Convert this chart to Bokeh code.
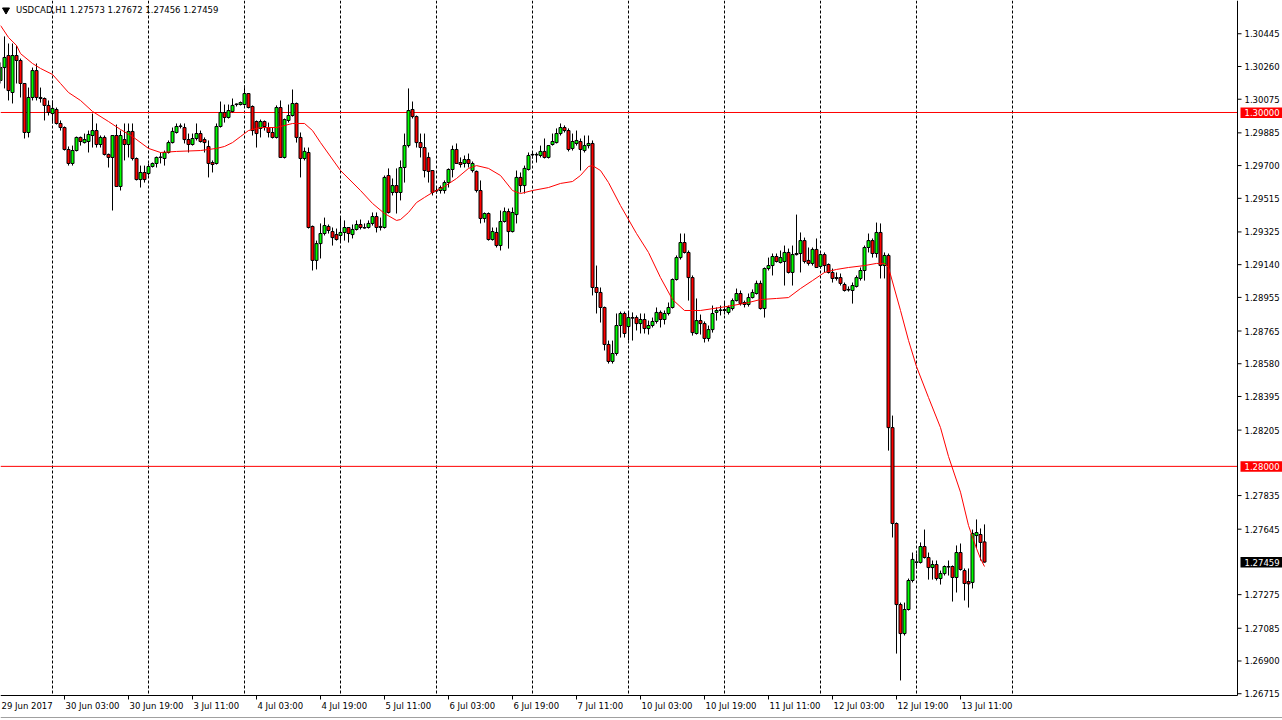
import numpy as np
import pandas as pd
from bokeh.plotting import figure
from bokeh.models import Range1d, ColumnDataSource
from bokeh.core.properties import value
from bokeh.embed import file_html
from bokeh.resources import INLINE

symbol = "USDCAD,H1"
first_bar = "2017-06-29 11:00"

open_ = [1.30181,1.30254,1.30322,1.30113,1.30322,1.30294,1.30164,1.29887,1.30085,1.30237,
 1.30085,1.30079,1.30040,1.29994,1.30017,1.29938,1.29915,1.29791,1.29712,1.29785,
 1.29859,1.29830,1.29836,1.29870,1.29898,1.29819,1.29859,1.29763,1.29746,1.29870,
 1.29582,1.29847,1.29819,1.29893,1.29740,1.29621,1.29661,1.29655,1.29695,1.29712,
 1.29746,1.29740,1.29774,1.29830,1.29887,1.29921,1.29915,1.29847,1.29819,1.29853,
 1.29881,1.29847,1.29808,1.29717,1.29712,1.29921,1.30000,1.29972,1.30006,1.30045,
 1.30045,1.30045,1.30107,1.30034,1.29949,1.29910,1.29949,1.29915,1.29887,1.29859,
 1.30028,1.29746,1.29955,1.29983,1.30051,1.29859,1.29740,1.29774,1.29356,1.29164,
 1.29259,1.29316,1.29356,1.29327,1.29310,1.29305,1.29322,1.29350,1.29310,1.29339,
 1.29367,1.29350,1.29350,1.29373,1.29412,1.29356,1.29350,1.29644,1.29548,1.29587,
 1.29548,1.29689,1.29813,1.30017,1.29977,1.29830,1.29802,1.29746,1.29672,1.29559,
 1.29559,1.29559,1.29604,1.29678,1.29791,1.29717,1.29712,1.29734,1.29672,1.29667,
 1.29559,1.29401,1.29429,1.29282,1.29322,1.29248,1.29384,1.29440,1.29327,1.29423,
 1.29633,1.29587,1.29678,1.29763,1.29763,1.29757,1.29780,1.29746,1.29819,1.29830,
 1.29881,1.29915,1.29898,1.29797,1.29825,1.29836,1.29785,1.29813,1.29825,1.29011,
 1.28983,1.28898,1.28689,1.28593,1.28638,1.28796,1.28864,1.28790,1.28841,1.28841,
 1.28807,1.28830,1.28779,1.28796,1.28819,1.28870,1.28830,1.28864,1.28898,1.29056,
 1.29180,1.29265,1.29209,1.29067,1.28751,1.28824,1.28807,1.28723,1.28773,1.28870,
 1.28881,1.28881,1.28870,1.28892,1.28937,1.28977,1.28926,1.28915,1.28954,1.28977,
 1.29034,1.28892,1.29118,1.29135,1.29186,1.29152,1.29158,1.29209,1.29096,1.29197,
 1.29203,1.29276,1.29164,1.29147,1.29226,1.29130,1.29197,1.29141,1.29096,1.29067,
 1.29067,1.29028,1.29000,1.28994,1.29017,1.29062,1.29107,1.29237,1.29276,1.29203,
 1.29322,1.29135,1.29192,1.28219,1.27677,1.27219,1.27055,1.27191,1.27355,1.27457,
 1.27457,1.27547,1.27485,1.27428,1.27445,1.27366,1.27394,1.27434,1.27434,1.27372,
 1.27513,1.27411,1.27349,1.27344,1.27609,1.27615,1.27573]

high = [1.30283,1.30430,1.30390,1.30390,1.30379,1.30305,1.30164,1.30141,1.30254,1.30277,
 1.30141,1.30085,1.30068,1.30068,1.30028,1.29955,1.29921,1.29808,1.29813,1.29864,
 1.29864,1.29881,1.29898,1.29994,1.29938,1.29870,1.29870,1.29768,1.29870,1.29932,
 1.29898,1.29938,1.29938,1.29938,1.29746,1.29700,1.29700,1.29712,1.29717,1.29751,
 1.29774,1.29785,1.29842,1.29915,1.29938,1.29938,1.29938,1.29881,1.29881,1.29938,
 1.29898,1.29859,1.29842,1.29729,1.29938,1.30062,1.30045,1.30045,1.30079,1.30051,
 1.30062,1.30153,1.30107,1.30040,1.29955,1.29960,1.29955,1.29943,1.29915,1.30040,
 1.30068,1.29966,1.30045,1.30130,1.30056,1.29887,1.29802,1.29802,1.29361,1.29276,
 1.29373,1.29406,1.29367,1.29350,1.29344,1.29406,1.29390,1.29350,1.29367,1.29390,
 1.29395,1.29373,1.29390,1.29435,1.29435,1.29406,1.29644,1.29684,1.29627,1.29684,
 1.29729,1.29881,1.30136,1.30062,1.29983,1.29881,1.29881,1.29774,1.29672,1.29582,
 1.29587,1.29616,1.29684,1.29813,1.29825,1.29746,1.29757,1.29768,1.29723,1.29672,
 1.29616,1.29435,1.29435,1.29350,1.29350,1.29446,1.29463,1.29457,1.29463,1.29672,
 1.29661,1.29700,1.29774,1.29774,1.29774,1.29813,1.29853,1.29813,1.29881,1.29910,
 1.29938,1.29927,1.29910,1.29881,1.29898,1.29853,1.29870,1.29870,1.29842,1.29135,
 1.29011,1.28903,1.28711,1.28711,1.28864,1.28875,1.28875,1.28870,1.28870,1.28853,
 1.28864,1.28864,1.28824,1.28841,1.28898,1.28881,1.28881,1.28926,1.29062,1.29192,
 1.29316,1.29316,1.29220,1.29079,1.28949,1.28858,1.28819,1.28796,1.28909,1.28898,
 1.28909,1.28926,1.28909,1.28949,1.29005,1.28994,1.28937,1.28977,1.29000,1.29050,
 1.29050,1.29124,1.29180,1.29203,1.29203,1.29220,1.29248,1.29231,1.29248,1.29423,
 1.29322,1.29293,1.29237,1.29237,1.29288,1.29203,1.29209,1.29147,1.29118,1.29096,
 1.29090,1.29039,1.29017,1.29039,1.29079,1.29124,1.29248,1.29316,1.29288,1.29378,
 1.29373,1.29209,1.29203,1.28287,1.27683,1.27230,1.27230,1.27366,1.27513,1.27507,
 1.27570,1.27643,1.27513,1.27468,1.27468,1.27411,1.27440,1.27468,1.27440,1.27553,
 1.27564,1.27423,1.27423,1.27643,1.27700,1.27649,1.27672]

low = [1.30164,1.30136,1.30068,1.30051,1.30164,1.30085,1.29853,1.29859,1.30068,1.30068,
 1.30056,1.29955,1.29983,1.29938,1.29932,1.29898,1.29785,1.29700,1.29700,1.29780,
 1.29813,1.29825,1.29774,1.29802,1.29802,1.29802,1.29757,1.29689,1.29446,1.29582,
 1.29559,1.29729,1.29746,1.29729,1.29616,1.29576,1.29604,1.29644,1.29689,1.29689,
 1.29712,1.29700,1.29768,1.29825,1.29881,1.29910,1.29825,1.29774,1.29813,1.29842,
 1.29830,1.29774,1.29633,1.29661,1.29706,1.29915,1.29943,1.29966,1.30000,1.30034,
 1.30040,1.30040,1.30023,1.29870,1.29802,1.29859,1.29898,1.29859,1.29853,1.29853,
 1.29746,1.29740,1.29943,1.29977,1.29830,1.29633,1.29729,1.29344,1.29107,1.29113,
 1.29175,1.29305,1.29316,1.29248,1.29276,1.29271,1.29276,1.29265,1.29288,1.29333,
 1.29339,1.29344,1.29344,1.29361,1.29322,1.29333,1.29344,1.29429,1.29531,1.29429,
 1.29503,1.29604,1.29802,1.29966,1.29802,1.29746,1.29633,1.29604,1.29531,1.29542,
 1.29542,1.29542,1.29576,1.29633,1.29712,1.29689,1.29689,1.29689,1.29661,1.29548,
 1.29373,1.29378,1.29276,1.29276,1.29237,1.29220,1.29378,1.29231,1.29322,1.29373,
 1.29548,1.29542,1.29672,1.29740,1.29717,1.29746,1.29740,1.29740,1.29813,1.29825,
 1.29870,1.29887,1.29780,1.29785,1.29813,1.29672,1.29774,1.29797,1.28966,1.28864,
 1.28813,1.28655,1.28581,1.28581,1.28626,1.28728,1.28728,1.28711,1.28711,1.28768,
 1.28751,1.28751,1.28745,1.28785,1.28807,1.28785,1.28802,1.28853,1.28892,1.29050,
 1.29169,1.29203,1.28937,1.28739,1.28745,1.28745,1.28700,1.28706,1.28756,1.28824,
 1.28853,1.28858,1.28858,1.28881,1.28932,1.28909,1.28898,1.28903,1.28949,1.28971,
 1.28886,1.28841,1.29107,1.29079,1.29152,1.29147,1.29022,1.29090,1.29022,1.29192,
 1.29096,1.29147,1.29135,1.29135,1.29124,1.29118,1.29096,1.29090,1.29039,1.29050,
 1.29022,1.28988,1.28988,1.28920,1.29011,1.29050,1.29050,1.29209,1.29180,1.29180,
 1.29062,1.29062,1.28089,1.27598,1.26942,1.26790,1.27044,1.27185,1.27344,1.27423,
 1.27451,1.27479,1.27360,1.27360,1.27355,1.27332,1.27383,1.27383,1.27236,1.27287,
 1.27411,1.27242,1.27202,1.27310,1.27536,1.27468,1.27456]

close = [1.30254,1.30311,1.30124,1.30322,1.30294,1.30164,1.29887,1.30085,1.30237,1.30085,
 1.30079,1.30040,1.30000,1.30023,1.29938,1.29915,1.29791,1.29712,1.29785,1.29859,
 1.29836,1.29847,1.29876,1.29898,1.29819,1.29859,1.29763,1.29746,1.29870,1.29582,
 1.29870,1.29819,1.29893,1.29740,1.29621,1.29661,1.29621,1.29695,1.29712,1.29746,
 1.29748,1.29774,1.29830,1.29893,1.29921,1.29924,1.29847,1.29819,1.29853,1.29881,
 1.29836,1.29830,1.29712,1.29706,1.29921,1.30000,1.29972,1.30011,1.30040,1.30048,
 1.30056,1.30107,1.30028,1.29898,1.29881,1.29949,1.29921,1.29887,1.29859,1.30028,
 1.29746,1.29960,1.29983,1.30051,1.29859,1.29740,1.29780,1.29350,1.29164,1.29259,
 1.29316,1.29361,1.29333,1.29293,1.29282,1.29322,1.29350,1.29316,1.29339,1.29367,
 1.29350,1.29347,1.29373,1.29412,1.29350,1.29350,1.29633,1.29435,1.29587,1.29548,
 1.29689,1.29813,1.30011,1.29977,1.29830,1.29802,1.29672,1.29667,1.29548,1.29556,
 1.29576,1.29604,1.29678,1.29791,1.29712,1.29706,1.29734,1.29712,1.29712,1.29559,
 1.29401,1.29429,1.29282,1.29327,1.29248,1.29384,1.29440,1.29327,1.29435,1.29633,
 1.29587,1.29684,1.29757,1.29760,1.29760,1.29780,1.29746,1.29813,1.29836,1.29881,
 1.29915,1.29898,1.29791,1.29836,1.29842,1.29791,1.29813,1.29825,1.29011,1.28983,
 1.28898,1.28689,1.28593,1.28638,1.28796,1.28864,1.28751,1.28841,1.28838,1.28807,
 1.28830,1.28779,1.28796,1.28819,1.28870,1.28830,1.28864,1.28898,1.29056,1.29180,
 1.29265,1.29209,1.29067,1.28756,1.28824,1.28807,1.28723,1.28773,1.28864,1.28881,
 1.28884,1.28886,1.28898,1.28937,1.28977,1.28920,1.28915,1.28954,1.28983,1.29034,
 1.28892,1.29118,1.29135,1.29186,1.29158,1.29180,1.29209,1.29096,1.29197,1.29203,
 1.29276,1.29158,1.29147,1.29226,1.29124,1.29197,1.29135,1.29096,1.29062,1.29062,
 1.29034,1.28994,1.28997,1.29022,1.29067,1.29107,1.29237,1.29276,1.29203,1.29322,
 1.29135,1.29192,1.28219,1.27677,1.27219,1.27055,1.27191,1.27355,1.27474,1.27460,
 1.27547,1.27485,1.27428,1.27445,1.27366,1.27394,1.27434,1.27431,1.27372,1.27513,
 1.27417,1.27338,1.27336,1.27620,1.27626,1.27570,1.27459]

# moving-average line (bar number, value)
ma_bar = [0,2,4,5,8,10,13,15,17,20,23,27,30,33,37,40,44,50,54,56,58,60,62,65,69,73,76,78,80,85,
 90,93,96,99,100,102,104,106,108,111,114,117,119,122,125,128,130,133,137,140,143,145,147,148,150,
 152,155,159,162,165,168,171,175,180,183,187,190,194,197,200,203,206,209,212,216,219,221,222,225,
 227,229,232,235,237,240,242,244,245,246]
ma_val = [1.30492,1.30424,1.30379,1.30333,1.30277,1.30249,1.30215,1.30164,1.30113,1.30068,
 1.30006,1.29949,1.29904,1.29864,1.29797,1.29774,1.29780,1.29785,1.29797,1.29808,
 1.29830,1.29864,1.29898,1.29915,1.29915,1.29938,1.29938,1.29898,1.29830,1.29672,
 1.29559,1.29486,1.29429,1.29390,1.29395,1.29435,1.29491,1.29520,1.29548,1.29582,
 1.29627,1.29684,1.29700,1.29684,1.29644,1.29559,1.29542,1.29559,1.29576,1.29599,
 1.29610,1.29644,1.29695,1.29700,1.29672,1.29604,1.29474,1.29316,1.29209,1.29067,
 1.28943,1.28881,1.28881,1.28898,1.28909,1.28926,1.28943,1.28949,1.28954,1.29005,
 1.29050,1.29096,1.29113,1.29124,1.29135,1.29147,1.29147,1.29124,1.28881,1.28712,
 1.28564,1.28389,1.28219,1.28056,1.27854,1.27666,1.27536,1.27479,1.27434]

level_lines = [1.30000, 1.28000]
price_ticks = [1.30445,1.30260,1.30075,1.29885,1.29700,1.29515,1.29325,1.29140,1.28955,
 1.28765,1.28580,1.28395,1.28205,1.27835,1.27645,1.27275,1.27085,1.26900,1.26715]
date_label_times = ["2017-06-29 11:00","2017-06-30 03:00","2017-06-30 19:00","2017-07-03 11:00",
 "2017-07-04 03:00","2017-07-04 19:00","2017-07-05 11:00","2017-07-06 03:00","2017-07-06 19:00",
 "2017-07-07 11:00","2017-07-10 03:00","2017-07-10 19:00","2017-07-11 11:00","2017-07-12 03:00",
 "2017-07-12 19:00","2017-07-13 11:00"]
date_label_text = ["29 Jun 2017","30 Jun 03:00","30 Jun 19:00","3 Jul 11:00","4 Jul 03:00",
 "4 Jul 19:00","5 Jul 11:00","6 Jul 03:00","6 Jul 19:00","7 Jul 11:00","10 Jul 03:00",
 "10 Jul 19:00","11 Jul 11:00","12 Jul 03:00","12 Jul 19:00","13 Jul 11:00"]

# ---------------- layout (pixels) ----------------
W, H = 1282, 720          # whole canvas = plotting frame; axes are drawn in it
AXIS_X, AXIS_Y = 1237, 695  # right price axis / bottom time axis position
BAR_PX = 4.0
FONT = value("DejaVu Sans")
FS = "8.5px"

times = pd.date_range(first_bar, "2017-07-14 23:00", freq="h")
times = times[times.dayofweek < 5]
n = len(open_)
idx = np.arange(n)

top_price, axis_price = 1.30633, 1.26705
upp = (top_price - axis_price) / AXIS_Y      # price per pixel
x0 = 0.0
x1 = x0 + W / BAR_PX
y1 = top_price
y0 = top_price - H * upp

def X(px):
    return x0 + px / BAR_PX

def Y(px):
    return y1 - px * upp

o = np.array(open_); c = np.array(close)
colors = np.where(c >= o, "#00ff00", "#ff0000")
src = ColumnDataSource(dict(x=idx, h=np.array(high), l=np.array(low),
                            top=np.maximum(o, c), bot=np.minimum(o, c), col=colors))

p = figure(width=W, height=H, x_range=Range1d(x0, x1), y_range=Range1d(y0, y1),
           x_axis_location=None, y_axis_location=None, toolbar_location=None,
           output_backend="svg", min_border=0)
p.background_fill_color = "white"
p.border_fill_color = "white"
p.outline_line_color = None
p.grid.visible = False

# day separators (dashed)
sep = [i for i, t in enumerate(times) if t.hour == 0]
p.segment(x0=sep, y0=[Y(0)] * len(sep), x1=sep, y1=[Y(AXIS_Y)] * len(sep),
          line_color="black", line_dash="3 2", line_width=1)
# horizontal levels
p.segment(x0=[X(0)] * 2, y0=level_lines, x1=[X(AXIS_X)] * 2, y1=level_lines,
          line_color="#ff0000", line_width=1)

# candles
p.segment(x0="x", y0="h", x1="x", y1="l", source=src, line_color="black", line_width=1)
p.vbar(x="x", width=0.75, top="top", bottom="bot", source=src, fill_color="col",
       line_color="black", line_width=1)
# moving average
p.line(ma_bar, ma_val, line_color="#ff0000", line_width=1)

# ---- right price axis
p.segment(x0=[X(AXIS_X)], y0=[Y(0)], x1=[X(AXIS_X)], y1=[Y(AXIS_Y)], line_color="black", line_width=1)
p.segment(x0=[X(AXIS_X)] * len(price_ticks), y0=price_ticks,
          x1=[X(AXIS_X + 4)] * len(price_ticks), y1=price_ticks, line_color="black", line_width=1)
p.text(x=[X(AXIS_X + 7)] * len(price_ticks), y=price_ticks,
       text=[f"{v:.5f}" for v in price_ticks], text_align="left", text_baseline="middle",
       text_font=FONT, text_font_size=FS, text_color="black")

# ---- bottom time axis
label_bars = [times.get_loc(pd.Timestamp(t)) for t in date_label_times]
p.segment(x0=[X(0)], y0=[Y(AXIS_Y)], x1=[X(AXIS_X)], y1=[Y(AXIS_Y)], line_color="black", line_width=1)
p.segment(x0=label_bars[1:], y0=[Y(AXIS_Y)] * (len(label_bars) - 1),
          x1=label_bars[1:], y1=[Y(AXIS_Y + 4)] * (len(label_bars) - 1), line_color="black", line_width=1)
p.text(x=[b + 1 / BAR_PX for b in label_bars], y=[Y(AXIS_Y + 5)] * len(label_bars),
       text=date_label_text, text_align="left", text_baseline="top",
       text_font=FONT, text_font_size=FS, text_color="black")
# thin frame line at the very bottom (terminal tab bar)
p.segment(x0=[X(0)], y0=[Y(H - 3)], x1=[X(W)], y1=[Y(H - 3)], line_color="#a0a0a0", line_width=1)

# ---- header
hdr = f"{symbol}  {open_[-1]:.5f} {high[-1]:.5f} {low[-1]:.5f} {close[-1]:.5f}"
p.scatter(x=[X(5.5)], y=[Y(9.5)], marker="inverted_triangle", size=7, fill_color="black",
          line_color="black")
p.text(x=[X(15.5)], y=[Y(9)], text=[hdr], text_baseline="middle", text_align="left",
       text_font=FONT, text_font_size=FS, text_color="black")

# ---- price tags on the axis
tag_vals = [level_lines[0], level_lines[1], close[-1]]
tag_cols = ["#ff0000", "#ff0000", "black"]
p.quad(left=[X(AXIS_X + 3)] * 3, right=[X(W)] * 3,
       top=[v + 5 * upp for v in tag_vals], bottom=[v - 5.5 * upp for v in tag_vals],
       fill_color=tag_cols, line_color=None)
p.text(x=[X(AXIS_X + 7)] * 3, y=tag_vals, text=[f"{v:.5f}" for v in tag_vals],
       text_align="left", text_baseline="middle", text_font=FONT, text_font_size=FS,
       text_color="white")

html = file_html(p, INLINE, title="USDCAD,H1")
html = html.replace("</head>", "<style>html,body{margin:0;padding:0;overflow:hidden;}</style></head>", 1)
open("out.html", "w").write(html)
